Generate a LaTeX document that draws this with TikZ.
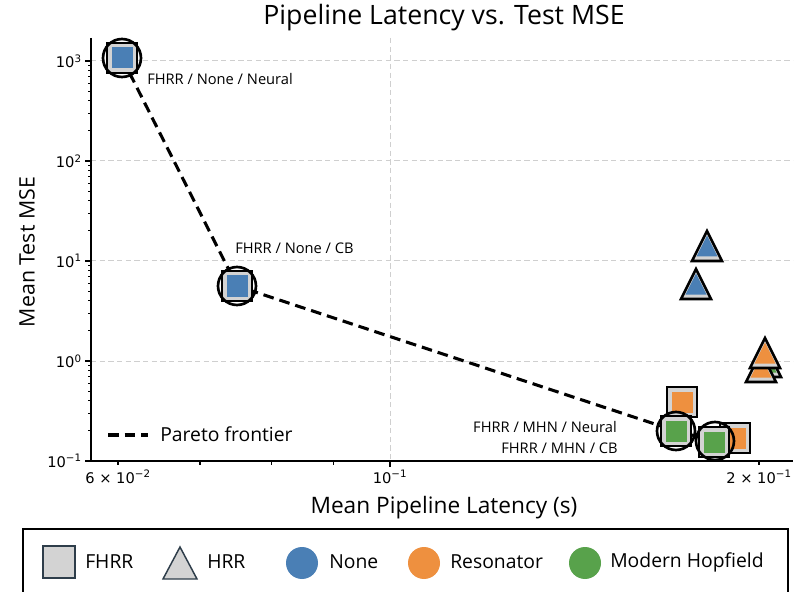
\documentclass[tikz,border=0pt]{standalone}
\usepackage{fontspec}
\setmainfont{Open Sans}
\newfontfamily\tickfont{DejaVu Sans}
\definecolor{cblue}{HTML}{4A7FB5}
\definecolor{corange}{HTML}{EE903F}
\definecolor{cgreen}{HTML}{58A24B}
\definecolor{cgray}{HTML}{D3D3D3}
\definecolor{cgrid}{HTML}{CFCFCF}
\definecolor{cedge}{HTML}{2E3D4A}
\newcommand\hrrmark[2]{%
  \begin{scope}[shift={(#1)}]
    \draw[trio] (0,-15) -- (15,15) -- (-15,15) -- cycle;
    \fill[#2] (0,-10.5) -- (10.5,10.5) -- (-10.5,10.5) -- cycle;
  \end{scope}}
\newcommand\tl[1]{{\tickfont 10\textsuperscript{#1}}}
\begin{document}
\begin{tikzpicture}[x=0.75pt,y=-0.75pt,
  spine/.style={line width=1.1pt, black},
  gridl/.style={cgrid, line width=0.75pt, dash pattern=on 4pt off 2.5pt},
  tickl/.style={line width=0.8pt},
  ticklab/.style={font=\tickfont\fontsize{11}{13}\selectfont, inner sep=0pt},
  annot/.style={font=\fontsize{11}{13}\selectfont, inner sep=0pt},
  legtext/.style={font=\fontsize{14.5}{17}\selectfont, inner sep=0pt, anchor=west},
  sqout/.style={rectangle, draw=black, line width=1.9pt, fill=cgray, minimum size=22.5pt, inner sep=0pt},
  sqin/.style={rectangle, fill=#1, minimum size=15.75pt, inner sep=0pt},
  paretoc/.style={circle, draw=black, line width=2pt, minimum size=28.5pt, inner sep=0pt},
  pareto/.style={line width=2.3pt, dash pattern=on 8pt off 4.5pt},
  trio/.style={draw=black, line width=1.9pt, fill=cgray, line join=miter},
  legdot/.style={circle, fill=#1, minimum size=24pt, inner sep=0pt},
]
\useasboundingbox (0,0) rectangle (794,592);

% grid
\foreach \yy in {61,161,261,361} \draw[gridl] (91,\yy) -- (793,\yy);
\draw[gridl] (390,38) -- (390,461);

% spines
\coordinate (ytop) at (91,38);
\coordinate (orig) at (91,461);
\coordinate (xend) at (793,461);
\draw[spine] (ytop) -- (orig) -- (xend);

% y ticks
\foreach \d in {0,1,2,3} \foreach \m in {2,...,9} {
  \pgfmathsetmacro\yy{461-100*(\d+ln(\m)/ln(10))}
  \draw[tickl] (88,\yy) -- (91,\yy);
}
\foreach \yy/\lab in {461/−1,361/0,261/1,161/2,61/3} {
  \draw[tickl] (85,\yy) -- (91,\yy);
  \node[ticklab, anchor=east] at (82,\yy) {\tl{\lab}};
}
% x ticks
\foreach \m in {6,7,8,9} {
  \pgfmathsetmacro\xx{390+1226*(ln(\m)/ln(10)-1)}
  \draw[tickl] (\xx,461) -- (\xx,465);
}
\draw[tickl] (759,461) -- (759,465);
\draw[tickl] (390,461) -- (390,467);
\node[ticklab, anchor=north] at (118,470) {{\tickfont 6 × 10\textsuperscript{−2}}};
\node[ticklab, anchor=north] at (390,470) {\tl{−1}};
\node[ticklab, anchor=north] at (759,470) {{\tickfont 2 × 10\textsuperscript{−1}}};

% labels
\node[font=\fontsize{20}{24}\selectfont] (title) at (444,18) {Pipeline Latency vs. Test MSE};
\node[font=\fontsize{17}{20}\selectfont] (xlab) at (444,508) {Mean Pipeline Latency (s)};
\node[font=\fontsize{16}{19}\selectfont, rotate=90] (ylab) at (27,252) {Mean Test MSE};

% Pareto frontier line
\coordinate (p1) at (122,58);
\coordinate (p2) at (237,286);
\coordinate (p3) at (676,431);
\coordinate (p4) at (715,441);
\draw[pareto] (p1) -- (p2) -- (p3) -- (p4);

% HRR markers
\coordinate (t1) at (707,246);
\coordinate (t2) at (696,284);
\coordinate (t3) at (766,362);
\coordinate (t4) at (761,367);
\coordinate (t5) at (765,353);
\hrrmark{t1}{cblue}
\hrrmark{t2}{cblue}
\hrrmark{t3}{cgreen}
\hrrmark{t4}{corange}
\hrrmark{t5}{corange}

% FHRR markers
\node[sqout] (s1) at (p1) {}; \node[sqin=cblue] at (s1) {};
\node[sqout] (s2) at (p2) {}; \node[sqin=cblue] at (s2) {};
\node[sqout] (s3) at (682,402) {}; \node[sqin=corange] at (s3) {};
\node[sqout] (s4) at (735,438) {}; \node[sqin=corange] at (s4) {};
\node[sqout] (s5) at (p3) {}; \node[sqin=cgreen] at (s5) {};
\node[sqout] (s6) at (714,442) {}; \node[sqin=cgreen] at (s6) {};

% Pareto circles
\node[paretoc] (c1) at (p1) {};
\node[paretoc] (c2) at (p2) {};
\node[paretoc] (c3) at (p3) {};
\node[paretoc] (c4) at (p4) {};

% annotations
\node[annot, anchor=west] (a1) at (147,79) {FHRR / None / Neural};
\node[annot, anchor=west] (a2) at (235,248) {FHRR / None / CB};
\node[annot, anchor=east] (a3) at (617,427) {FHRR / MHN / Neural};
\node[annot, anchor=east] (a4) at (618,448) {FHRR / MHN / CB};

% inner legend
\coordinate (l1) at (108,435);
\coordinate (l2) at (148,435);
\draw[pareto] (l1) -- (l2);
\node[legtext] (lt) at (160,434) {Pareto frontier};

% bottom legend
\coordinate (lb1) at (23,529);
\coordinate (lb2) at (788,600);
\draw[line width=1.1pt] (lb1) rectangle (lb2);
\node[rectangle, draw=cedge, line width=1.1pt, fill=cgray, minimum size=24pt, inner sep=0pt] (m1) at (59,562) {};
\node[legtext] (e1) at (85,562) {FHRR};
\coordinate (m2) at (180,563);
\begin{scope}[shift={(m2)}]
  \draw[cedge, line width=1.1pt, fill=cgray] (0,-16) -- (17,16) -- (-17,16) -- cycle;
\end{scope}
\node[legtext] (e2) at (207,562) {HRR};
\node[legdot=cblue] (m3) at (302,563) {};
\node[legtext] (e3) at (329,562) {None};
\node[legdot=corange] (m4) at (424,563) {};
\node[legtext] (e4) at (450,562) {Resonator};
\node[legdot=cgreen] (m5) at (585,563) {};
\node[legtext] (e5) at (610,562) {Modern Hopfield};
\end{tikzpicture}
\end{document}
